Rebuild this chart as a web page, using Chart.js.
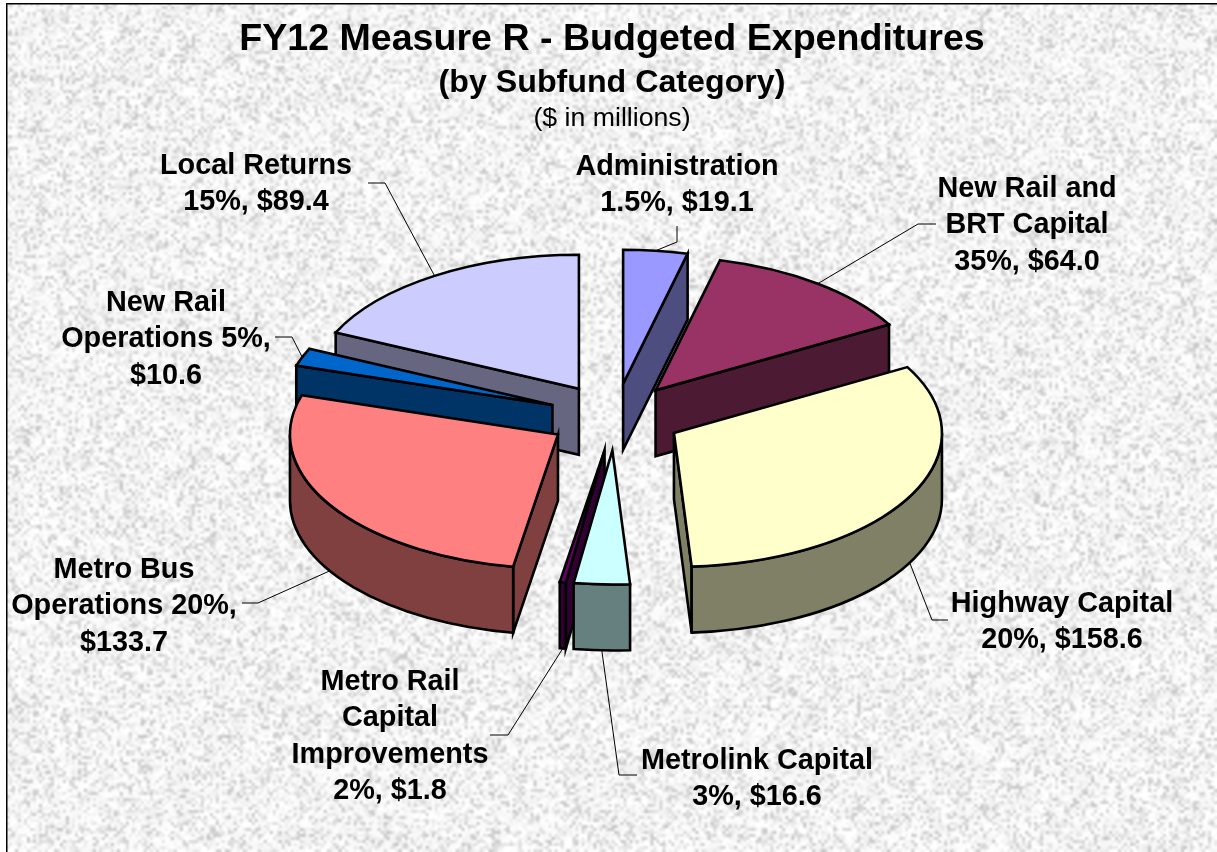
<!DOCTYPE html>
<html>
<head>
<meta charset="utf-8">
<style>
  html, body { margin: 0; padding: 0; background: #fff; overflow: hidden; }
  canvas { display: block; }
</style>
<script src="https://cdn.jsdelivr.net/npm/chart.js@4"></script>
</head>
<body>
<canvas id="pie" width="1217" height="852"></canvas>
<script>
const categories = ["Administration", "New Rail and BRT Capital", "Highway Capital", "Metrolink Capital",
  "Metro Rail Capital Improvements", "Metro Bus Operations", "New Rail Operations", "Local Returns"];
const budget = [19.1, 64.0, 158.6, 16.6, 1.8, 133.7, 10.6, 89.4];
const topColors = ["#9999ff", "#993366", "#ffffcc", "#ccffff", "#660066", "#ff8080", "#0066cc", "#ccccff"];
const wallColors = ["#4d4d80", "#4d1a33", "#808066", "#668080", "#330033", "#804040", "#003366", "#666680"];
const labelLines = [
  ["Administration", "1.5%, $19.1"],
  ["New Rail and", "BRT Capital", "35%, $64.0"],
  ["Highway Capital", "20%, $158.6"],
  ["Metrolink Capital", "3%, $16.6"],
  ["Metro Rail", "Capital", "Improvements", "2%, $1.8"],
  ["Metro Bus", "Operations 20%,", "$133.7"],
  ["New Rail", "Operations 5%,", "$10.6"],
  ["Local Returns", "15%, $89.4"]
];

// label centre x / first line y, then the elbow and end of each leader line
const labelPos = [[677, 167], [1027, 189], [1062, 604], [757, 761], [390, 682], [124, 570], [166, 303], [256, 166]];
const leaderBends = [
  [[677, 242], [677, 226]], [[918, 224], [936, 224]], [[932, 620], [948, 620]], [[619, 775], [637, 775]],
  [[508, 735], [490, 735]], [[258, 603], [242, 603]], [[292, 337], [275, 337]], [[385, 183], [368, 183]]
];
const lineGap = 36.4;
const pieX = 615, pieY = 417, squash = 0.5, depth = 66, explode = 67;
const FONT = '"Liberation Sans", Arial, sans-serif';

// granite backdrop, fixed seed so every run looks the same
let seed = 12345;
function rnd() {
  seed = (seed * 1664525 + 1013904223) >>> 0;
  return seed / 4294967296;
}
function noiseLayer(w, h, lo, hi) {
  const c = document.createElement("canvas");
  c.width = w; c.height = h;
  const g = c.getContext("2d");
  const img = g.createImageData(w, h);
  for (let i = 0; i < img.data.length; i += 4) {
    const r = rnd();
    const v = lo + (hi - lo) * r * r * r;
    img.data[i] = img.data[i + 1] = img.data[i + 2] = 255 - v;
    img.data[i + 3] = 255;
  }
  g.putImageData(img, 0, 0);
  return c;
}
const backdrop = {
  id: "backdrop",
  beforeDraw(chart) {
    const ctx = chart.ctx, W = chart.width, H = chart.height;
    ctx.save();
    ctx.fillStyle = "#fff";
    ctx.fillRect(0, 0, W, H);
    ctx.beginPath();
    ctx.rect(7, 4, W - 7, H - 4);
    ctx.clip();
    ctx.imageSmoothingEnabled = true;
    ctx.imageSmoothingQuality = "high";
    ctx.drawImage(noiseLayer(Math.ceil(W / 3), Math.ceil(H / 3), 0, 70), 0, 0, W, H);
    ctx.globalAlpha = 0.25;
    ctx.drawImage(noiseLayer(Math.ceil(W / 9), Math.ceil(H / 9), 0, 45), 0, 0, W, H);
    ctx.restore();
    ctx.fillStyle = "#000";
    ctx.fillRect(6, 3, W - 6, 1.5);
    ctx.fillRect(6, 3, 1.5, H - 3);
  }
};

function centre(chart) {
  const a = chart.chartArea;
  return [(a.left + a.right) / 2, (a.top + a.bottom) / 2];
}
function sliceGeom(chart) {
  const [cx, cy] = centre(chart);
  return chart.getDatasetMeta(0).data.map((el, i) => ({
    i, a0: el.startAngle, a1: el.endAngle,
    mid: (el.startAngle + el.endAngle) / 2,
    r: el.outerRadius,
    x: pieX + el.x - cx,
    y: pieY + (el.y - cy) * squash
  }));
}
function onRim(s, a, dy) {
  return [s.x + s.r * Math.cos(a), s.y + s.r * Math.sin(a) * squash + dy];
}

// tilts the pie: side walls first, then the library's arcs through a flattening transform
const tilt = {
  id: "tilt",
  afterDatasetUpdate(chart) {
    // the arc "offset" option also grows thin slices, so pull each slice out by moving its element
    chart.getDatasetMeta(0).data.forEach(el => {
      const mid = (el.startAngle + el.endAngle) / 2;
      el.x += Math.cos(mid) * explode;
      el.y += Math.sin(mid) * explode;
    });
  },
  beforeDatasetsDraw(chart) {
    const ctx = chart.ctx;
    const walls = sliceGeom(chart).sort((a, b) => a.y - b.y);
    ctx.save();
    ctx.lineWidth = 2.6;
    ctx.lineJoin = "miter";
    ctx.strokeStyle = "#000";
    walls.forEach(s => {
      ctx.fillStyle = wallColors[s.i];
      const radial = a => {
        const q = onRim(s, a, 0);
        ctx.beginPath();
        ctx.moveTo(s.x, s.y);
        ctx.lineTo(q[0], q[1]);
        ctx.lineTo(q[0], q[1] + depth);
        ctx.lineTo(s.x, s.y + depth);
        ctx.closePath();
        ctx.fill();
        ctx.stroke();
      };
      if (Math.cos(s.a1) > 0) radial(s.a1);
      if (Math.cos(s.a0) < 0) radial(s.a0);
      const f0 = Math.max(s.a0, 0), f1 = Math.min(s.a1, Math.PI);
      if (f1 > f0) {
        ctx.beginPath();
        ctx.ellipse(s.x, s.y, s.r, s.r * squash, 0, f0, f1);
        ctx.ellipse(s.x, s.y + depth, s.r, s.r * squash, 0, f1, f0, true);
        ctx.closePath();
        ctx.fill();
        ctx.stroke();
      }
    });
    ctx.restore();
    const [cx, cy] = centre(chart);
    ctx.save();
    ctx.translate(pieX, pieY);
    ctx.scale(1, squash);
    ctx.translate(-cx, -cy);
  },
  afterDatasetsDraw(chart) {
    const ctx = chart.ctx;
    ctx.restore();
    ctx.save();
    ctx.strokeStyle = "#000";
    ctx.lineWidth = 2.6;
    ctx.lineJoin = "miter";
    const slices = sliceGeom(chart);
    slices.forEach(s => {
      ctx.beginPath();
      ctx.moveTo(s.x, s.y);
      ctx.ellipse(s.x, s.y, s.r, s.r * squash, 0, s.a0, s.a1);
      ctx.closePath();
      ctx.stroke();
    });
    // leader lines start at the middle of each slice's rim
    ctx.lineWidth = 1;
    slices.forEach(s => {
      const front = Math.sin(s.mid) > 0 && s.i !== 6;
      const st = onRim(s, s.mid, front ? depth : 0);
      ctx.beginPath();
      ctx.moveTo(st[0], st[1]);
      leaderBends[s.i].forEach(b => ctx.lineTo(b[0], b[1]));
      ctx.stroke();
    });
    ctx.fillStyle = "#000";
    ctx.textAlign = "center";
    ctx.textBaseline = "middle";
    ctx.font = "bold 28.8px " + FONT;
    labelLines.forEach((lines, i) => {
      lines.forEach((t, k) => ctx.fillText(t, labelPos[i][0], labelPos[i][1] + k * lineGap));
    });
    ctx.font = "26.7px " + FONT;
    ctx.fillText("($ in millions)", 612, 119);
    ctx.restore();
  }
};

new Chart(document.getElementById("pie"), {
  type: "pie",
  data: {
    labels: categories,
    datasets: [{
      data: budget,
      backgroundColor: topColors,
      borderWidth: 0
    }]
  },
  options: {
    responsive: false,
    animation: false,
    radius: 268,
    layout: { padding: { left: 7 } },
    plugins: {
      legend: { display: false },
      tooltip: { enabled: false },
      title: {
        display: true,
        text: "FY12 Measure R - Budgeted Expenditures",
        color: "#000",
        font: { family: FONT, size: 37.6, weight: "bold" },
        padding: { top: 17, bottom: 2 }
      },
      subtitle: {
        display: true,
        text: "(by Subfund Category)",
        color: "#000",
        font: { family: FONT, size: 32.2, weight: "bold" },
        padding: { top: 0, bottom: 40 }
      }
    }
  },
  plugins: [backdrop, tilt]
});
</script>
</body>
</html>
